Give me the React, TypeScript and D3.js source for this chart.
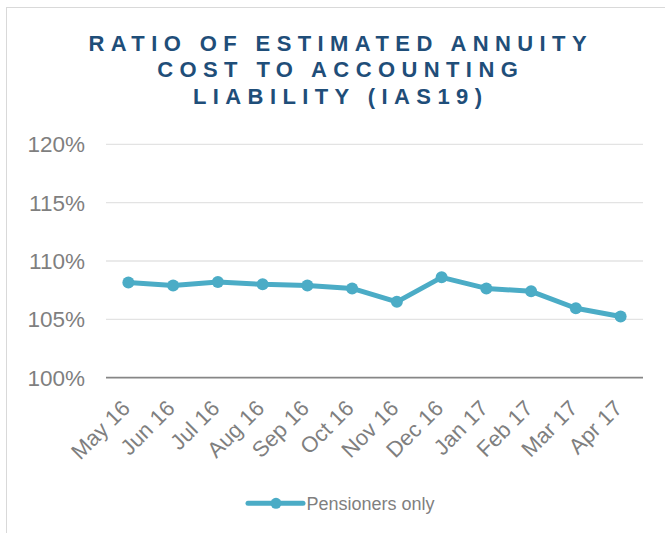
import * as d3 from "d3";
import React from "react";

const months = ["May 16", "Jun 16", "Jul 16", "Aug 16", "Sep 16", "Oct 16", "Nov 16", "Dec 16", "Jan 17", "Feb 17", "Mar 17", "Apr 17"];
const ratios = [1.0815, 1.079, 1.082, 1.08, 1.079, 1.0765, 1.065, 1.086, 1.0765, 1.074, 1.0595, 1.0525];
const yTicks = [1.0, 1.05, 1.1, 1.15, 1.2];
const titleLines = ["RATIO OF ESTIMATED ANNUITY", "COST TO ACCOUNTING", "LIABILITY (IAS19)"];
const seriesName = "Pensioners only";

const W = 665;
const H = 533;
const margin = {top: 144.3, right: 22, bottom: 155.3, left: 106};
const lineColor = "#4bacc6";
const gray = "#7f7f7f";
const font = "'Liberation Sans', Arial, sans-serif";

export default function App() {
  const x = d3.scaleBand()
      .domain(months)
      .range([margin.left, W - margin.right])
      .padding(0);

  const y = d3.scaleLinear()
      .domain([1.0, 1.2])
      .range([H - margin.bottom, margin.top]);

  const cx = (m: string) => (x(m) as number) + x.bandwidth() / 2;
  const pct = d3.format(".0%");

  const line = d3.line<number>()
      .x((d, i) => cx(months[i]))
      .y(d => y(d));

  const axisY = y(1.0);

  return (
    <div style={{position: "absolute", left: 0, top: 0}}>
      <svg width={W} height={H} style={{display: "block", fontFamily: font}}>
        <rect x={0} y={0} width={W} height={H} fill="#fff"/>
        <rect x={6.5} y={7.5} width={700} height={600} fill="none" stroke="#d9d9d9" strokeWidth={1}/>

        {/* title */}
        <g fill="#1f4e79" fontWeight="bold" fontSize={22} textAnchor="middle" style={{letterSpacing: "6.4px"}}>
          {titleLines.map((t, i) => (
            <text key={t} x={340.7} y={50.7 + i * 26.6}>{t}</text>
          ))}
        </g>

        {/* gridlines */}
        {yTicks.filter(t => t > 1.0).map(t => (
          <line key={t} x1={margin.left} x2={W - margin.right} y1={y(t)} y2={y(t)} stroke="#e3e3e3" strokeWidth={1.3}/>
        ))}
        <line x1={margin.left} x2={W - margin.right} y1={axisY} y2={axisY} stroke="#868686" strokeWidth={1.8}/>

        {/* y labels */}
        <g fill={gray} fontSize={22.5} textAnchor="end">
          {yTicks.map(t => (
            <text key={t} x={85} y={y(t)} dy="0.36em">{pct(t)}</text>
          ))}
        </g>

        {/* x labels */}
        <g fill={gray} fontSize={22} textAnchor="end">
          {months.map(m => (
            <text key={m} transform={`translate(${cx(m) + 3},${axisY + 32}) rotate(-45)`}>{m}</text>
          ))}
        </g>

        {/* series */}
        <path d={line(ratios) || ""} fill="none" stroke={lineColor} strokeWidth={5} strokeLinejoin="round"/>
        {ratios.map((v, i) => (
          <circle key={months[i]} cx={cx(months[i])} cy={y(v)} r={6} fill={lineColor}/>
        ))}

        {/* legend */}
        <line x1={248} x2={303} y1={503.3} y2={503.3} stroke={lineColor} strokeWidth={5} strokeLinecap="round"/>
        <circle cx={276} cy={503.3} r={5.5} fill={lineColor}/>
        <text x={306.5} y={509.6} fill={gray} fontSize={18}>{seriesName}</text>
      </svg>
    </div>
  );
}
